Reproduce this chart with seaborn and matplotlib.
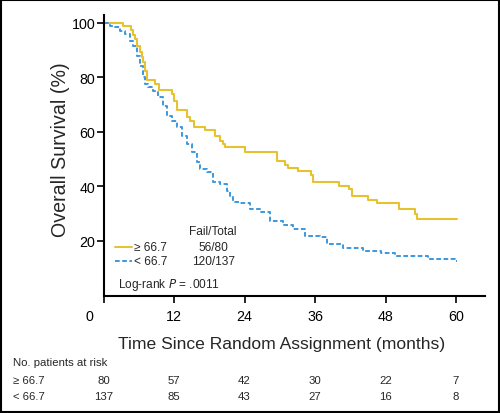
import matplotlib
matplotlib.use("Agg")
import pandas as pd
import seaborn as sns
from matplotlib import pyplot as plt
from matplotlib import font_manager, transforms
from matplotlib.patches import Rectangle

# Kaplan-Meier estimates (months, % surviving)
high_time = [0, 3.3, 4.7, 5.0, 5.4, 5.7, 6.2, 6.55, 6.7, 7.1, 7.35, 8.8, 9.45, 11.6, 12.0, 12.5,
             14.2, 14.7, 15.4, 17.3, 19.0, 19.8, 20.3, 20.7, 24.1, 29.5, 30.9, 31.4, 33.1, 35.3,
             35.7, 40.1, 41.7, 42.3, 45.1, 46.6, 50.3, 53.1, 53.3, 60.1]
high_surv = [100, 98.75, 97.5, 95.6, 94.1, 91.7, 89.4, 87.5, 85.7, 82.4, 79.2, 77.6, 75.5, 73.9,
             71.5, 68.1, 65.5, 64.1, 61.9, 60.7, 58.6, 56.8, 55.6, 54.4, 52.6, 49.4, 48.0, 46.8,
             45.6, 44.2, 41.8, 40.3, 38.9, 36.5, 35.0, 33.8, 31.9, 29.9, 27.9, 27.9]

low_time = [0, 1.1, 2.0, 2.8, 3.7, 4.5, 5.1, 5.65, 6.2, 6.8, 7.1, 7.6, 8.5, 9.3, 10.2, 10.8, 11.6,
            12.5, 13.3, 14.2, 15.0, 15.9, 16.4, 17.6, 18.7, 19.8, 21.0, 21.5, 22.1, 23.2, 24.9,
            26.6, 28.3, 30.6, 32.3, 34.3, 36.9, 38.0, 40.8, 44.2, 47.2, 49.6, 55.2, 59.9, 60.1]
low_surv = [100, 99.0, 98.4, 97.2, 96.0, 93.5, 91.7, 88.0, 84.3, 80.1, 77.6, 76.4, 75.2, 72.7,
            69.7, 66.0, 64.1, 61.7, 58.6, 55.6, 52.6, 48.9, 46.4, 45.2, 41.5, 40.9, 38.5, 36.1,
            34.2, 33.9, 31.7, 30.5, 27.4, 25.9, 24.4, 21.9, 21.4, 18.9, 17.4, 16.4, 15.6, 14.4,
            13.4, 12.8, 12.8]

group_labels = ["\u2265 66.7", "< 66.7"]
fail_total = ["56/80", "120/137"]
risk_times = [0, 12, 24, 36, 48, 60]
risk_high = [80, 57, 42, 30, 22, 7]
risk_low = [137, 85, 43, 27, 16, 8]
x_ticks = [0, 12, 24, 36, 48, 60]
y_ticks = [20, 40, 60, 80, 100]

YELLOW = "#E6C230"
BLUE = "#3D98DE"

sns.set_style("ticks")
names = {f.name for f in font_manager.fontManager.ttflist}
plt.rcParams["font.family"] = ["Liberation Sans", "DejaVu Sans"]
if "Liberation Sans Narrow" in names:
    label_font, label_size = ["Liberation Sans Narrow", "DejaVu Sans"], 15
else:
    label_font, label_size = ["Liberation Sans", "DejaVu Sans"], 12.6

fig = plt.figure(figsize=(5, 4.14), dpi=100)
ax = fig.add_axes([103.5 / 500, 117.5 / 414, 381.9 / 500, 280.5 / 414])

df_high = pd.DataFrame({"time": high_time, "surv": high_surv})
df_low = pd.DataFrame({"time": low_time, "surv": low_surv})
sns.lineplot(data=df_high, x="time", y="surv", ax=ax, color=YELLOW, lw=1.5,
             drawstyle="steps-post", estimator=None, sort=False)
sns.lineplot(data=df_low, x="time", y="surv", ax=ax, color=BLUE, lw=1.4,
             drawstyle="steps-post", estimator=None, sort=False, linestyle=(0, (2.4, 1.3)))

ax.set_xlim(0, 65)
ax.set_ylim(0, 102.9)
ax.set_xticks(x_ticks)
ax.set_yticks(y_ticks)
ax.set_xticklabels([str(t) for t in x_ticks])
ax.tick_params(axis="both", labelsize=10.3, width=1.2, length=5, color="black", labelcolor="black")
ax.tick_params(axis="x", pad=5)
ax.tick_params(axis="y", pad=1)
# "0" sits left of the corner
ax.get_xticklabels()[0].set_transform(
    ax.get_xticklabels()[0].get_transform() + transforms.ScaledTranslation(-14 / 100, 0, fig.dpi_scale_trans))
for side in ["top", "right"]:
    ax.spines[side].set_visible(False)
for side in ["left", "bottom"]:
    ax.spines[side].set_linewidth(1.5)
    ax.spines[side].set_color("black")
ax.set_xlabel("Time Since Random Assignment (months)", family=label_font, fontsize=label_size)
ax.set_ylabel("Overall Survival (%)", family=label_font, fontsize=label_size + 1.5)
ax.xaxis.set_label_coords(0.467, -0.143)
ax.yaxis.set_label_coords(-0.087, 0.522)

# legend block
ax.text(0.287, 0.230, "Fail/Total", transform=ax.transAxes, ha="center", va="center", fontsize=8.6)
for i, (lab, ft, col) in enumerate(zip(group_labels, fail_total, [YELLOW, BLUE])):
    yy = 0.172 - i * 0.050
    ax.plot([0.030, 0.075], [yy, yy], transform=ax.transAxes, color=col, lw=1.4,
            linestyle="-" if i == 0 else (0, (2.4, 1.3)))
    ax.text(0.079, yy, lab, transform=ax.transAxes, ha="left", va="center", fontsize=8.6)
    ax.text(0.287, yy, ft, transform=ax.transAxes, ha="center", va="center", fontsize=8.6)
ax.text(0.038, 0.041, "Log-rank $\\it{P}$ = .0011", transform=ax.transAxes, ha="left", va="center",
        fontsize=8.6)

# numbers at risk
trans = transforms.blended_transform_factory(ax.transData, fig.transFigure)
fig.text(13 / 500, 1 - 363 / 414, "No. patients at risk", ha="left", va="center", fontsize=8.2)
for row, (lab, counts) in enumerate(zip(group_labels, [risk_high, risk_low])):
    yy = 1 - (381 + row * 16) / 414
    fig.text(13 / 500, yy, lab, ha="left", va="center", fontsize=8.2)
    for t, n in zip(risk_times, counts):
        ax.text(t, yy, str(n), transform=trans, ha="center", va="center", fontsize=8.2, clip_on=False)

fig.patches.append(Rectangle((0.002, 0.002), 0.996, 0.996, transform=fig.transFigure,
                             fill=False, edgecolor="black", lw=1.5))

fig.savefig("out.png", dpi=100)
